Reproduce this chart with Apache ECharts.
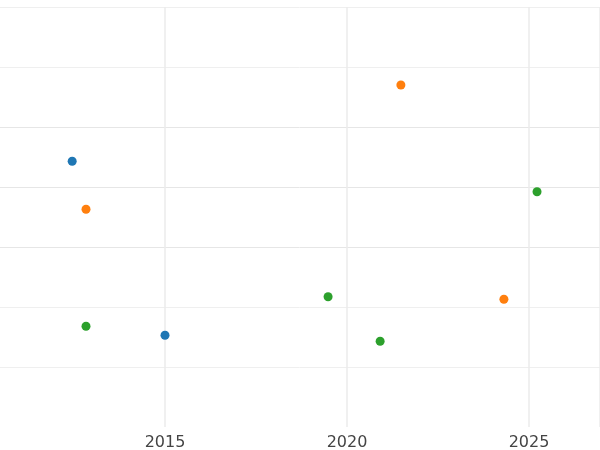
<!DOCTYPE html><html><head><meta charset="utf-8">
<script src="https://cdn.jsdelivr.net/npm/echarts@6/dist/echarts.min.js"></script>
<style>html,body{margin:0;padding:0}#c{width:600px;height:450px}</style></head><body><div id="c"></div>
<script>
const seriesA = [[2012.45,4.43],[2015.0,1.53]];
const seriesB = [[2021.48,5.7],[2012.83,3.63],[2024.31,2.13]];
const seriesC = [[2025.22,3.92],[2019.48,2.17],[2020.91,1.43],[2012.83,1.68]];
const colors = ['#1f77b4','#ff7f0e','#2ca02c'];
const chart = echarts.init(document.getElementById('c'));
chart.setOption({
  animation:false,
  grid:{left:-17,right:0,top:7,bottom:23,containLabel:false,outerBoundsMode:'none'},
  xAxis:{type:'value',min:2010,max:2026.95,interval:5,
    axisLine:{show:false},axisTick:{show:false},
    axisLabel:{color:'#444',fontSize:16,margin:8,fontFamily:'DejaVu Sans',showMaxLabel:false,
      formatter:v=>v===2010?'':String(v)},
    splitLine:{lineStyle:{color:'#ebebeb',width:1.5}}},
  yAxis:{type:'value',min:0,max:7,interval:1,
    axisLine:{show:false},axisTick:{show:false},axisLabel:{show:false},
    splitLine:{lineStyle:{color:['transparent','#efefef','#efefef','#e6e6e6','#e6e6e6','#e6e6e6','#efefef','#efefef']}}},
  series:[seriesA,seriesB,seriesC].map((d,i)=>({type:'scatter',data:d,symbolSize:9,itemStyle:{color:colors[i],opacity:1}}))
});
</script></body></html>
